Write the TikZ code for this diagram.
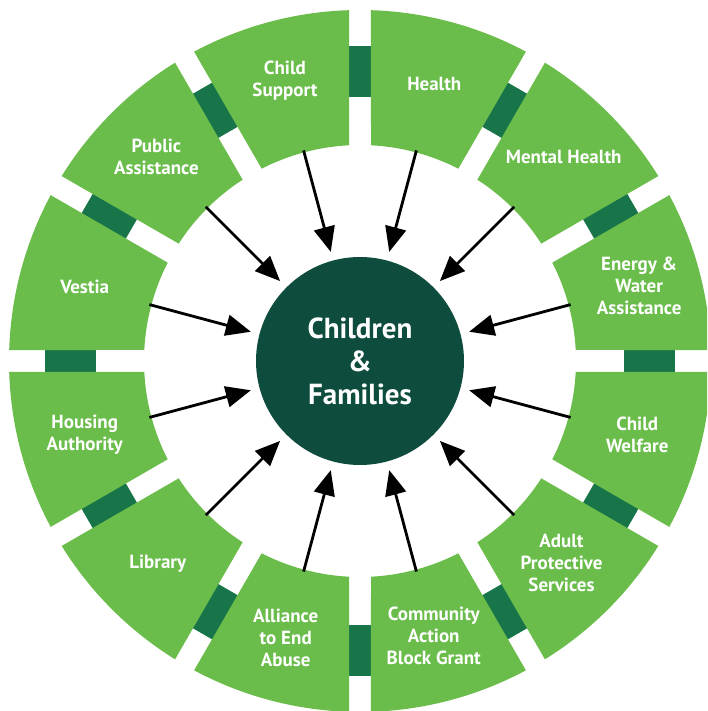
\documentclass[tikz,border=0pt]{standalone}
\usepackage{fontspec}
\setmainfont{PT Sans}
\usetikzlibrary{arrows.meta}
\definecolor{ringgreen}{RGB}{106,189,75}
\definecolor{linkgreen}{RGB}{23,117,73}
\definecolor{coregreen}{RGB}{14,77,62}
\begin{document}
\begin{tikzpicture}[
  sectorfill/.style={fill=ringgreen},
  linkbar/.style={fill=linkgreen},
  lbl/.style={text=white, font=\fontsize{19}{22}\selectfont\bfseries, align=center, inner sep=0pt},
  feed/.style={-{Triangle[length=25pt,width=21pt]}, line width=2.8pt, black},
  core/.style={circle, fill=coregreen, minimum size=208pt, inner sep=0pt, outer sep=9pt,
    text=white, font=\fontsize{29}{33}\selectfont\bfseries, align=center},
]
\useasboundingbox (-360pt,-350pt) rectangle (347pt,361pt);
\clip (-360pt,-350pt) rectangle (347pt,361pt);
% connector bars in the gaps
\foreach \g in {0,30,...,330} {
  \fill[linkbar, rotate=\g] (264pt,-11.5pt) rectangle (315pt,11.5pt);
}
% ring sectors
\foreach \c in {15,45,...,345} {
  \pgfmathsetmacro\ao{\c-15+1.796}
  \pgfmathsetmacro\bo{\c+15-1.796}
  \pgfmathsetmacro\ai{\c-15+2.92}
  \pgfmathsetmacro\bi{\c+15-2.92}
  \fill[sectorfill] (\ao:351pt) arc[start angle=\ao, end angle=\bo, radius=351pt]
    -- (\bi:216pt) arc[start angle=\bi, end angle=\ai, radius=216pt] -- cycle;
}
% centre
\node[core] (cf) at (0,0) {Children\\\&\\Families};
% labels
\node[lbl] (hl) at (75:287pt) {Health};
\node[lbl] (mh) at (45:288pt) {Mental Health};
\node[lbl] (ew) at (15:289pt) {Energy \&\\Water\\Assistance};
\node[lbl] (cw) at (-15:287pt) {Child\\Welfare};
\node[lbl] (ap) at (-45:285pt) {Adult\\Protective\\Services};
\node[lbl] (ca) at (-75:285pt) {Community\\Action\\Block Grant};
\node[lbl] (ae) at (-105:287pt) {Alliance\\to End\\Abuse};
\node[lbl] (lb) at (-135:286pt) {Library};
\node[lbl] (ha) at (-165:285pt) {Housing\\Authority};
\node[lbl] (ve) at (165:285pt) {Vestia};
\node[lbl] (pa) at (135:288pt) {Public\\Assistance};
\node[lbl] (cs) at (105:290pt) {Child\\Support};
% arrow starts at the inner edge of each sector
\foreach \n/\a in {hl/75,mh/45,ew/15,cw/-15,ap/-45,ca/-75,ae/-105,lb/-135,ha/-165,ve/165,pa/135,cs/105} {
  \coordinate (s-\n) at (\a:218pt);
  \draw[feed] (s-\n) -- (cf);
}
\end{tikzpicture}
\end{document}
